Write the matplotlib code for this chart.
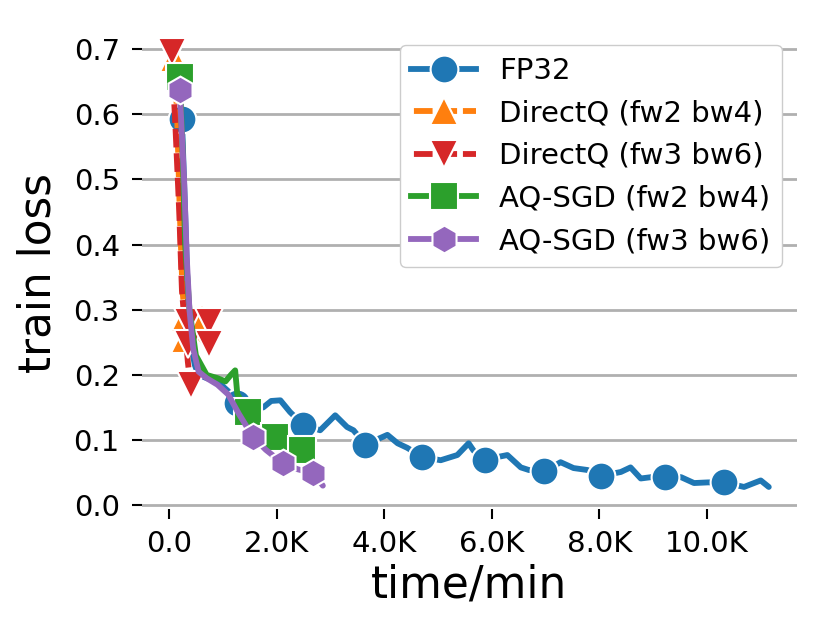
import matplotlib
matplotlib.use("Agg")
import matplotlib.pyplot as plt
from matplotlib.lines import Line2D
from matplotlib.ticker import FuncFormatter, MultipleLocator

# time in minutes, train loss
fp32_t = [240, 300, 350, 400, 480, 550, 700, 900, 1100, 1260, 1500, 1750, 1900, 2070,
          2250, 2500, 2810, 3090, 3310, 3430, 3650, 4060, 4250, 4430, 4710, 5050, 5360,
          5570, 5660, 5870, 6290, 6540, 6690, 6980, 7280, 7520, 7780, 8040, 8400, 8580,
          8770, 8960, 9220, 9520, 9760, 10020, 10320, 10690, 11000, 11150]
fp32_loss = [0.593, 0.45, 0.32, 0.25, 0.215, 0.2, 0.195, 0.19, 0.175, 0.157, 0.155, 0.15,
             0.16, 0.161, 0.143, 0.123, 0.115, 0.138, 0.12, 0.115, 0.093, 0.108, 0.095,
             0.088, 0.074, 0.069, 0.077, 0.095, 0.084, 0.070, 0.077, 0.058, 0.054, 0.052,
             0.066, 0.057, 0.054, 0.045, 0.051, 0.058, 0.041, 0.043, 0.043, 0.043, 0.034,
             0.035, 0.035, 0.028, 0.038, 0.028]
fp32_mt = [240, 1260, 2500, 3650, 4710, 5870, 6980, 8040, 9220, 10320]
fp32_ml = [0.593, 0.157, 0.123, 0.093, 0.074, 0.070, 0.052, 0.045, 0.043, 0.035]

dq24_t = [100, 150, 200, 250, 300, 400, 550, 650]
dq24_loss = [0.687, 0.6, 0.45, 0.33, 0.285, 0.27, 0.26, 0.25]
dq24_mt = [100, 300, 300, 620]
dq24_ml = [0.687, 0.287, 0.255, 0.287]

dq36_t = [50, 120, 190, 240, 300, 350, 400]
dq36_loss = [0.695, 0.58, 0.45, 0.33, 0.27, 0.22, 0.184]
dq36_mt = [50, 360, 740, 360, 740, 400]
dq36_ml = [0.695, 0.281, 0.281, 0.248, 0.248, 0.184]

aq24_t = [200, 250, 300, 380, 500, 700, 900, 1050, 1150, 1230, 1270, 1350, 1470, 1600,
          1800, 1970, 2200, 2470, 2550]
aq24_loss = [0.657, 0.55, 0.4, 0.3, 0.23, 0.2, 0.195, 0.19, 0.2, 0.207, 0.17, 0.16, 0.143,
             0.13, 0.11, 0.105, 0.095, 0.085, 0.07]
aq24_mt = [200, 1470, 1970, 2470]
aq24_ml = [0.657, 0.143, 0.105, 0.085]

aq36_t = [200, 280, 330, 380, 450, 550, 700, 900, 1100, 1300, 1560, 1800, 2120, 2400,
          2680, 2860]
aq36_loss = [0.637, 0.5, 0.38, 0.3, 0.24, 0.205, 0.195, 0.185, 0.17, 0.14, 0.105, 0.085,
             0.064, 0.055, 0.049, 0.03]
aq36_mt = [200, 1560, 2120, 2680]
aq36_ml = [0.637, 0.105, 0.064, 0.049]

labels = ["FP32", "DirectQ (fw2 bw4)", "DirectQ (fw3 bw6)",
          "AQ-SGD (fw2 bw4)", "AQ-SGD (fw3 bw6)"]
colors = ["#1f77b4", "#ff7f0e", "#d62728", "#2ca02c", "#9467bd"]
markers = ["o", "^", "v", "s", "h"]
dashed = (3.7, (3.2, 1.0))
styles = ["-", dashed, dashed, "-", "-"]

series = [(fp32_t, fp32_loss, fp32_mt, fp32_ml),
          (dq24_t, dq24_loss, dq24_mt, dq24_ml),
          (dq36_t, dq36_loss, dq36_mt, dq36_ml),
          (aq24_t, aq24_loss, aq24_mt, aq24_ml),
          (aq36_t, aq36_loss, aq36_mt, aq36_ml)]

fig = plt.figure(figsize=(8.29, 6.34), dpi=100)
ax = fig.add_axes([0.1713, 0.197, 0.790, 0.746])

handles = []
for (t, loss, mt, ml), lab, c, m, ls in zip(series, labels, colors, markers, styles):
    ax.plot(t, loss, color=c, lw=4.2, ls=ls, solid_capstyle='round')
    ax.plot(mt, ml, ls='none', marker=m, ms=20, color=c, mec='white', mew=1.5)
    handles.append(Line2D([], [], color=c, lw=4.2, ls=ls, marker=m, ms=20,
                          mec='white', mew=1.5))

ax.set_xlim(-502, 11673)
ax.set_ylim(-0.006, 0.72)
ax.yaxis.set_major_locator(MultipleLocator(0.1))
ax.xaxis.set_major_locator(MultipleLocator(2000))
ax.xaxis.set_major_formatter(FuncFormatter(lambda v, p: "0.0" if v == 0 else f"{v/1000:.1f}K"))
ax.yaxis.set_major_formatter(FuncFormatter(lambda v, p: f"{v:.1f}"))

for s in ax.spines.values():
    s.set_visible(False)
ax.set_axisbelow(True)
ax.yaxis.grid(True, color='#b0b0b0', lw=2)
ax.tick_params(axis='y', length=7, width=1.5, pad=9, labelsize=21)
ax.tick_params(axis='x', length=7, width=1.5, pad=8, labelsize=21)

ax.set_xlabel("time/min", fontsize=31.5)
ax.set_ylabel("train loss", fontsize=31.5, labelpad=10)

ax.legend(handles, labels, loc='upper right', bbox_to_anchor=(0.977, 0.981),
          fontsize=21, handlelength=2.2, borderaxespad=0, framealpha=1,
          edgecolor='#cccccc', fancybox=True)

fig.savefig("out.png", dpi=100)
